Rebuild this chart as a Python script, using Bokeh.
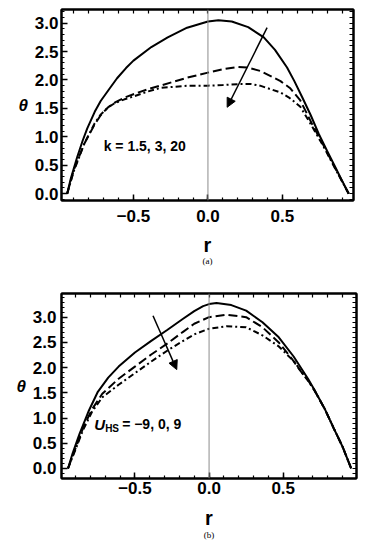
from bokeh.plotting import figure
from bokeh.layouts import column
from bokeh.models import (Range1d, LinearAxis, FixedTicker, Arrow, NormalHead,
                          Label, Span)
from bokeh.embed import file_html
from bokeh.resources import INLINE

# ---------------- data (panel a: k = 1.5, 3, 20) ----------------
a_r_solid = [-0.945, -0.92, -0.878, -0.84, -0.81, -0.76, -0.72, -0.66, -0.61, -0.55,
             -0.50, -0.38, -0.27, -0.14, 0.0, 0.07, 0.16, 0.27, 0.375, 0.45,
             0.531, 0.58, 0.632, 0.69, 0.744, 0.80, 0.856, 0.90, 0.945]
a_t_solid = [0.0, 0.27, 0.64, 0.94, 1.15, 1.44, 1.63, 1.85, 2.03, 2.21,
             2.34, 2.58, 2.75, 2.92, 3.03, 3.05, 3.03, 2.93, 2.75, 2.53,
             2.22, 1.98, 1.70, 1.38, 1.05, 0.75, 0.46, 0.23, 0.0]

a_r_dash = [-0.945, -0.90, -0.83, -0.76, -0.72, -0.67, -0.62, -0.56, -0.50, -0.40,
            -0.32, -0.14, 0.0, 0.10, 0.20, 0.263, 0.35, 0.487, 0.55, 0.62, 0.70,
            0.78, 0.856, 0.945]
a_t_dash = [0.0, 0.42, 0.88, 1.22, 1.38, 1.52, 1.61, 1.69, 1.75, 1.84,
            1.90, 2.04, 2.13, 2.19, 2.23, 2.22, 2.16, 1.98, 1.86, 1.64, 1.22,
            0.83, 0.44, 0.0]

a_r_dd = [-0.945, -0.90, -0.83, -0.76, -0.72, -0.67, -0.62, -0.56, -0.50, -0.40,
          -0.32, -0.14, 0.0, 0.10, 0.218, 0.287, 0.35, 0.487, 0.55, 0.62, 0.70,
          0.78, 0.856, 0.945]
a_t_dd = [0.0, 0.40, 0.88, 1.24, 1.39, 1.52, 1.60, 1.66, 1.71, 1.80,
          1.86, 1.90, 1.90, 1.91, 1.93, 1.93, 1.90, 1.78, 1.68, 1.53, 1.18,
          0.81, 0.43, 0.0]

# ---------------- data (panel b: U_HS = -9, 0, 9) ----------------
b_r_solid = [-0.951, -0.92, -0.874, -0.81, -0.75, -0.68, -0.61, -0.50, -0.39, -0.28,
             -0.18, -0.10, -0.04, 0.0, 0.05, 0.15, 0.25, 0.36, 0.47, 0.57,
             0.667, 0.71, 0.78, 0.84, 0.90, 0.958]
b_t_solid = [0.0, 0.30, 0.68, 1.15, 1.52, 1.80, 2.02, 2.30, 2.53, 2.75,
             2.96, 3.12, 3.22, 3.26, 3.28, 3.24, 3.13, 2.90, 2.60, 2.22,
             1.78, 1.56, 1.18, 0.80, 0.43, 0.0]

b_r_dash = [-0.951, -0.90, -0.85, -0.79, -0.72, -0.61, -0.50, -0.39, -0.28, -0.18,
            -0.10, 0.0, 0.117, 0.25, 0.36, 0.47, 0.557, 0.62, 0.667, 0.71, 0.78,
            0.84, 0.90, 0.958]
b_t_dash = [0.0, 0.40, 0.80, 1.17, 1.48, 1.78, 2.02, 2.26, 2.48, 2.70,
            2.87, 3.00, 3.05, 3.00, 2.80, 2.50, 2.18, 1.92, 1.75, 1.55, 1.18,
            0.80, 0.43, 0.0]

b_r_dd = [-0.951, -0.90, -0.85, -0.79, -0.72, -0.61, -0.50, -0.39, -0.28, -0.18,
          -0.10, 0.0, 0.117, 0.25, 0.36, 0.47, 0.58, 0.62, 0.667, 0.71, 0.78,
          0.84, 0.90, 0.958]
b_t_dd = [0.0, 0.38, 0.76, 1.12, 1.41, 1.66, 1.89, 2.12, 2.34, 2.52,
          2.66, 2.77, 2.82, 2.80, 2.64, 2.42, 2.10, 1.92, 1.74, 1.55, 1.18,
          0.80, 0.43, 0.0]

x_ticks = [-0.5, 0.0, 0.5]
x_tick_labels = ["\u22120.5", "0.0", "0.5"]
y_ticks = [0.0, 0.5, 1.0, 1.5, 2.0, 2.5, 3.0]
y_tick_labels = ["0.0", "0.5", "1.0", "1.5", "2.0", "2.5", "3.0"]
x_minor = [round(-0.9 + 0.1 * i, 2) for i in range(19)]
y_minor = [round(-0.2 + 0.1 * i, 2) for i in range(37)]

FONT = "Liberation Sans"


def style_axes(p, tick_standoff_x, tick_standoff_y, label_standoff):
    xt = FixedTicker(ticks=x_ticks, minor_ticks=x_minor)
    yt = FixedTicker(ticks=y_ticks, minor_ticks=y_minor)
    xa = p.xaxis[0]
    ya = p.yaxis[0]
    xa.ticker = xt
    ya.ticker = yt
    xa.major_label_overrides = dict(zip(x_ticks, x_tick_labels))
    ya.major_label_overrides = dict(zip(y_ticks, y_tick_labels))
    for ax in (xa, ya):
        ax.major_tick_in = 6
        ax.major_tick_out = 0
        ax.minor_tick_in = 3
        ax.minor_tick_out = 0
        ax.axis_line_width = 2
        ax.major_tick_line_width = 1.5
        ax.minor_tick_line_width = 1.2
        ax.major_label_text_font = FONT
        ax.major_label_text_font_style = "bold"
        ax.major_label_text_font_size = "17px"
        ax.major_label_text_color = "black"
        ax.axis_label_text_font = FONT
        ax.axis_label_text_color = "black"
    xa.major_label_standoff = tick_standoff_x
    ya.major_label_standoff = tick_standoff_y
    xa.axis_label = "r"
    xa.axis_label_text_font_style = "bold"
    xa.axis_label_text_font_size = "20px"
    xa.axis_label_standoff = label_standoff
    ya.axis_label = "\u03b8"
    ya.axis_label_text_font_style = "bold italic"
    ya.axis_label_text_font_size = "17px"
    ya.axis_label_orientation = "horizontal"
    ya.axis_label_standoff = 4
    # mirrored ticks on top and right (tick marks only, no labels)
    for loc, allt in (("above", x_ticks + x_minor), ("right", y_ticks + y_minor)):
        m = LinearAxis(ticker=FixedTicker(ticks=[], minor_ticks=allt),
                       major_tick_in=0, major_tick_out=0,
                       minor_tick_in=4, minor_tick_out=0,
                       major_label_standoff=0,
                       axis_line_width=2, minor_tick_line_width=1.2)
        p.add_layout(m, loc)


def caption_axis(p, text, standoff):
    c = LinearAxis(ticker=FixedTicker(ticks=[]), axis_line_alpha=0,
                   major_tick_out=0, major_tick_in=0, minor_tick_out=0,
                   minor_tick_in=0, major_label_standoff=0, axis_label=text,
                   axis_label_text_font="Liberation Serif",
                   axis_label_text_font_size="9px",
                   axis_label_text_font_style="normal",
                   axis_label_text_color="black",
                   axis_label_standoff=standoff)
    p.add_layout(c, "below")


def draw_curves(p, rs, ts):
    p.line(rs[0], ts[0], line_color="black", line_width=2)
    p.line(rs[1], ts[1], line_color="black", line_width=2, line_dash="9 4")
    p.line(rs[2], ts[2], line_color="black", line_width=2, line_dash="6 3 2 3")


# ---------------- panel (a) ----------------
pa = figure(width=359, height=278, output_backend="svg", toolbar_location=None,
            x_range=Range1d(-0.983, 0.977), y_range=Range1d(-0.12, 3.24),
            min_border_left=61, min_border_right=6, min_border_top=9,
            min_border_bottom=78)
pa.grid.visible = False
pa.outline_line_color = "black"
pa.outline_line_width = 2
pa.add_layout(Span(location=0, dimension="height", line_color="#8c8c8c",
                   line_width=1))
draw_curves(pa, [a_r_solid, a_r_dash, a_r_dd], [a_t_solid, a_t_dash, a_t_dd])
pa.add_layout(Arrow(end=NormalHead(size=9, fill_color="black", line_color="black"),
                    x_start=0.397, y_start=2.92, x_end=0.129, y_end=1.52,
                    line_width=1.5, line_color="black"))
pa.add_layout(Label(x=-0.70, y=0.83, text="k = 1.5, 3, 20", text_font=FONT,
                    text_font_style="bold", text_font_size="14px",
                    text_baseline="middle", text_color="black"))
style_axes(pa, 9, 3, 9)
caption_axis(pa, "(a)", -3)

# ---------------- panel (b) ----------------
pb = figure(width=362, height=272, output_backend="svg", toolbar_location=None,
            x_range=Range1d(-0.995, 0.994), y_range=Range1d(-0.2, 3.47),
            min_border_left=58, min_border_right=3, min_border_top=15,
            min_border_bottom=72)
pb.grid.visible = False
pb.outline_line_color = "black"
pb.outline_line_width = 2
pb.add_layout(Span(location=0, dimension="height", line_color="#8c8c8c",
                   line_width=1))
draw_curves(pb, [b_r_solid, b_r_dash, b_r_dd], [b_t_solid, b_t_dash, b_t_dd])
pb.add_layout(Arrow(end=NormalHead(size=9, fill_color="black", line_color="black"),
                    x_start=-0.378, y_start=3.03, x_end=-0.218, y_end=1.96,
                    line_width=1.5, line_color="black"))
pb.add_layout(Label(x=-0.775, y=0.88, text="U", text_font=FONT,
                    text_font_style="bold italic", text_font_size="15px",
                    text_baseline="middle", text_color="black"))
pb.add_layout(Label(x=-0.775, y=0.88, x_offset=11, y_offset=-4, text="HS",
                    text_font=FONT, text_font_style="bold", text_font_size="10px",
                    text_baseline="middle", text_color="black"))
pb.add_layout(Label(x=-0.775, y=0.88, x_offset=28, text="= \u22129, 0, 9",
                    text_font=FONT, text_font_style="bold", text_font_size="14px",
                    text_baseline="middle", text_color="black"))
style_axes(pb, 3, 5, 10)
caption_axis(pb, "(b)", -2)

layout = column(pa, pb, spacing=0)
open("out.html", "w").write(file_html(layout, INLINE))
